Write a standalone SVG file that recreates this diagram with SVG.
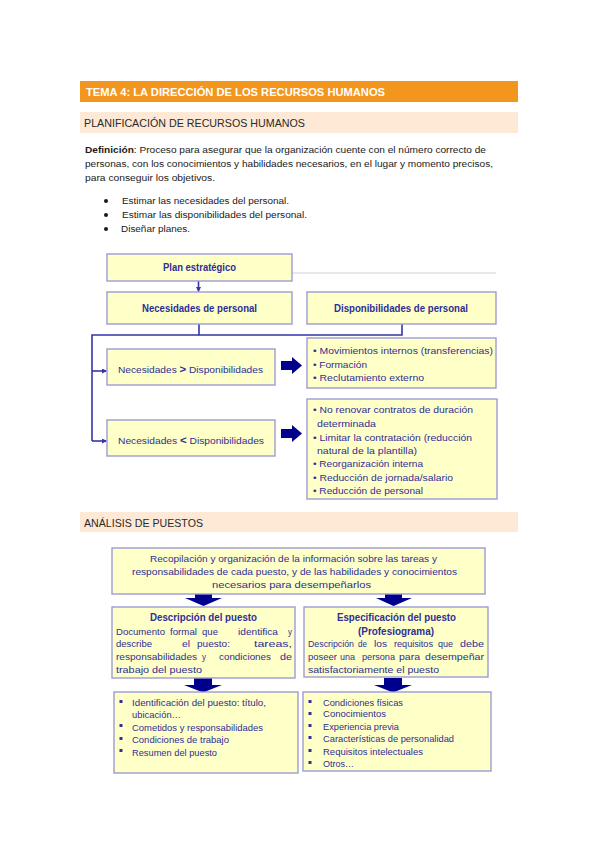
<svg xmlns="http://www.w3.org/2000/svg" width="599" height="848" viewBox="0 0 599 848">
<defs>
<style>
.t{font-family:"Liberation Sans",Arial,sans-serif;}
.body{font-family:"Liberation Sans",Arial,sans-serif;font-size:9.6px;fill:#1a1a1a;}
.box{fill:#ffffc8;stroke:#9c9cd6;stroke-width:1.4;}
.bt{font-family:"Liberation Sans",Arial,sans-serif;font-size:9.8px;fill:#2e2e96;}
.bb{font-family:"Liberation Sans",Arial,sans-serif;font-size:10px;font-weight:bold;fill:#2e2e96;}
.con{fill:none;stroke:#3535a8;stroke-width:1.6;}
.blk{fill:#00008c;}
</style>
<marker id="ah" viewBox="0 0 10 10" refX="9" refY="5" markerWidth="5" markerHeight="5" orient="auto" markerUnits="userSpaceOnUse">
<path d="M0,0 L10,5 L0,10 z" fill="#3535a8"/>
</marker>
</defs>
<rect width="599" height="848" fill="#ffffff"/>

<!-- header bars -->
<g id="header">
<rect x="80" y="81" width="438" height="21" fill="#f2961d"/>
<text class="t" x="86" y="96" font-size="11" font-weight="bold" fill="#ffffff" textLength="299" lengthAdjust="spacingAndGlyphs">TEMA 4: LA DIRECCIÓN DE LOS RECURSOS HUMANOS</text>
</g>
<g id="section1">
<rect x="80" y="112" width="438" height="21" fill="#fde9d5"/>
<text class="t" x="84" y="127" font-size="11.5" fill="#2a2a2a" textLength="221" lengthAdjust="spacingAndGlyphs">PLANIFICACIÓN DE RECURSOS HUMANOS</text>
</g>

<g id="definition">
<text class="body" x="85" y="153" textLength="401" lengthAdjust="spacingAndGlyphs"><tspan font-weight="bold">Definición</tspan>: Proceso para asegurar que la organización cuente con el número correcto de</text>
<text class="body" x="85" y="167" textLength="408" lengthAdjust="spacingAndGlyphs">personas, con los conocimientos y habilidades necesarios, en el lugar y momento precisos,</text>
<text class="body" x="85" y="181" textLength="130" lengthAdjust="spacingAndGlyphs">para conseguir los objetivos.</text>
</g>

<g id="bullets">
<circle cx="106" cy="201" r="2" fill="#1a1a1a"/>
<circle cx="106" cy="215" r="2" fill="#1a1a1a"/>
<circle cx="106" cy="229" r="2" fill="#1a1a1a"/>
<text class="body" x="122" y="204" textLength="167" lengthAdjust="spacingAndGlyphs">Estimar las necesidades del personal.</text>
<text class="body" x="122" y="218" textLength="185" lengthAdjust="spacingAndGlyphs">Estimar las disponibilidades del personal.</text>
<text class="body" x="121" y="232" textLength="69" lengthAdjust="spacingAndGlyphs">Diseñar planes.</text>
</g>

<!-- connectors -->
<g id="connectors">
<line x1="292" y1="273" x2="496" y2="273" stroke="#d0d0d8" stroke-width="1"/>
<line class="con" x1="198.5" y1="281" x2="198.5" y2="291.5" marker-end="url(#ah)"/>
<polyline class="con" points="199,324 199,335 402,335 402,324"/>
<polyline class="con" points="199,335 92,335 92,441"/>
<line class="con" x1="92" y1="371" x2="106.5" y2="371" marker-end="url(#ah)"/>
<line class="con" x1="92" y1="441" x2="106.5" y2="441" marker-end="url(#ah)"/>
<path class="blk" d="M281,361 H292 V357 L302,365.5 L292,374 V370 H281 Z"/>
<path class="blk" d="M281,429 H292 V425 L302,433.5 L292,442 V438 H281 Z"/>
<path class="blk" d="M195,594 H212 V598 H222 L203.5,606 L185,598 H195 Z"/>
<path class="blk" d="M385,594 H402 V598 H412 L393.5,606 L376,598 H385 Z"/>
<path class="blk" d="M194,678 H212 V685 H222 L203,692.5 L184,685 H194 Z"/>
<path class="blk" d="M384,678 H402 V685 H412 L393,692.5 L374,685 H384 Z"/>
</g>

<g id="plan">
<rect class="box" x="107" y="254" width="185" height="27"/>
<text class="bb" x="199.5" y="271" text-anchor="middle" textLength="73" lengthAdjust="spacingAndGlyphs">Plan estratégico</text>
</g>
<g id="necesidades">
<rect class="box" x="107" y="292" width="185" height="32"/>
<text class="bb" x="199.5" y="312" text-anchor="middle" textLength="115" lengthAdjust="spacingAndGlyphs">Necesidades de personal</text>
</g>
<g id="disponibilidades">
<rect class="box" x="307" y="292" width="189" height="32"/>
<text class="bb" x="401" y="312" text-anchor="middle" textLength="134" lengthAdjust="spacingAndGlyphs">Disponibilidades de personal</text>
</g>
<g id="nec-mayor">
<rect class="box" x="107" y="349" width="168" height="36"/>
<text class="bt" x="118" y="373" textLength="145" lengthAdjust="spacingAndGlyphs">Necesidades <tspan font-weight="bold" font-size="11">&gt;</tspan> Disponibilidades</text>
</g>
<g id="nec-menor">
<rect class="box" x="107" y="420" width="168" height="36"/>
<text class="bt" x="118" y="444" textLength="146" lengthAdjust="spacingAndGlyphs">Necesidades <tspan font-weight="bold" font-size="11">&lt;</tspan> Disponibilidades</text>
</g>
<g id="medidas-mayor">
<rect class="box" x="307" y="338" width="189" height="50"/>
<text class="bt" x="313" y="354" textLength="180" lengthAdjust="spacingAndGlyphs">• Movimientos internos (transferencias)</text>
<text class="bt" x="313" y="368" textLength="54" lengthAdjust="spacingAndGlyphs">• Formación</text>
<text class="bt" x="313" y="381" textLength="111" lengthAdjust="spacingAndGlyphs">• Reclutamiento externo</text>
</g>
<g id="medidas-menor">
<rect class="box" x="307" y="399" width="190" height="100"/>
<text class="bt" x="313" y="413" textLength="160" lengthAdjust="spacingAndGlyphs">• No renovar contratos de duración</text>
<text class="bt" x="317" y="427" textLength="59" lengthAdjust="spacingAndGlyphs">determinada</text>
<text class="bt" x="313" y="441" textLength="159" lengthAdjust="spacingAndGlyphs">• Limitar la contratación (reducción</text>
<text class="bt" x="317" y="454" textLength="100" lengthAdjust="spacingAndGlyphs">natural de la plantilla)</text>
<text class="bt" x="313" y="467" textLength="110" lengthAdjust="spacingAndGlyphs">• Reorganización interna</text>
<text class="bt" x="313" y="481" textLength="140" lengthAdjust="spacingAndGlyphs">• Reducción de jornada/salario</text>
<text class="bt" x="313" y="494" textLength="110" lengthAdjust="spacingAndGlyphs">• Reducción de personal</text>
</g>

<g id="section2">
<rect x="80" y="512" width="438" height="20" fill="#fde9d5"/>
<text class="t" x="84" y="527" font-size="11.5" fill="#2a2a2a" textLength="119" lengthAdjust="spacingAndGlyphs">ANÁLISIS DE PUESTOS</text>
</g>

<g id="analisis">
<rect class="box" x="112" y="548" width="373" height="46"/>
<text class="bt" x="293.5" y="562" text-anchor="middle" textLength="287" lengthAdjust="spacingAndGlyphs">Recopilación y organización de la información sobre las tareas y</text>
<text class="bt" x="294.5" y="575" text-anchor="middle" textLength="325" lengthAdjust="spacingAndGlyphs">responsabilidades de cada puesto, y de las habilidades y conocimientos</text>
<text class="bt" x="291.5" y="588" text-anchor="middle" textLength="159" lengthAdjust="spacingAndGlyphs">necesarios para desempeñarlos</text>
</g>

<g id="descripcion">
<rect class="box" x="112" y="607" width="183" height="71"/>
<text class="bb" x="203.5" y="621" text-anchor="middle" textLength="107" lengthAdjust="spacingAndGlyphs">Descripción del puesto</text>
<text class="bt" y="635"><tspan x="116" textLength="49" lengthAdjust="spacingAndGlyphs">Documento</tspan><tspan x="170" textLength="27" lengthAdjust="spacingAndGlyphs">formal</tspan><tspan x="202" textLength="16" lengthAdjust="spacingAndGlyphs">que</tspan><tspan x="238" textLength="40" lengthAdjust="spacingAndGlyphs">identifica</tspan><tspan x="288" textLength="4" lengthAdjust="spacingAndGlyphs">y</tspan></text>
<text class="bt" y="647"><tspan x="116" textLength="36" lengthAdjust="spacingAndGlyphs">describe</tspan><tspan x="182" textLength="8" lengthAdjust="spacingAndGlyphs">el</tspan><tspan x="197" textLength="33" lengthAdjust="spacingAndGlyphs">puesto:</tspan><tspan x="254" textLength="38" lengthAdjust="spacingAndGlyphs">tareas,</tspan></text>
<text class="bt" y="660"><tspan x="116" textLength="81" lengthAdjust="spacingAndGlyphs">responsabilidades</tspan><tspan x="202" textLength="4" lengthAdjust="spacingAndGlyphs">y</tspan><tspan x="219" textLength="52" lengthAdjust="spacingAndGlyphs">condiciones</tspan><tspan x="280" textLength="12" lengthAdjust="spacingAndGlyphs">de</tspan></text>
<text class="bt" x="116" y="673" textLength="86" lengthAdjust="spacingAndGlyphs">trabajo del puesto</text>
</g>

<g id="especificacion">
<rect class="box" x="304" y="607" width="184" height="70"/>
<text class="bb" x="396.5" y="621" text-anchor="middle" textLength="119" lengthAdjust="spacingAndGlyphs">Especificación del puesto</text>
<text class="bb" x="396" y="635" text-anchor="middle" textLength="76" lengthAdjust="spacingAndGlyphs">(Profesiograma)</text>
<text class="bt" y="647"><tspan x="308" textLength="46" lengthAdjust="spacingAndGlyphs">Descripción</tspan><tspan x="358" textLength="9" lengthAdjust="spacingAndGlyphs">de</tspan><tspan x="374" textLength="13" lengthAdjust="spacingAndGlyphs">los</tspan><tspan x="394" textLength="39" lengthAdjust="spacingAndGlyphs">requisitos</tspan><tspan x="438" textLength="15" lengthAdjust="spacingAndGlyphs">que</tspan><tspan x="460" textLength="24" lengthAdjust="spacingAndGlyphs">debe</tspan></text>
<text class="bt" y="660"><tspan x="308" textLength="29" lengthAdjust="spacingAndGlyphs">poseer</tspan><tspan x="340" textLength="15" lengthAdjust="spacingAndGlyphs">una</tspan><tspan x="362" textLength="33" lengthAdjust="spacingAndGlyphs">persona</tspan><tspan x="399" textLength="21" lengthAdjust="spacingAndGlyphs">para</tspan><tspan x="425" textLength="59" lengthAdjust="spacingAndGlyphs">desempeñar</tspan></text>
<text class="bt" x="308" y="673" textLength="131" lengthAdjust="spacingAndGlyphs">satisfactoriamente el puesto</text>
</g>

<g id="lista-descripcion">
<rect class="box" x="114" y="692" width="184" height="81"/>
<rect x="119.5" y="700" width="3" height="3" fill="#2e2e96"/>
<rect x="119.5" y="724" width="3" height="3" fill="#2e2e96"/>
<rect x="119.5" y="737" width="3" height="3" fill="#2e2e96"/>
<rect x="119.5" y="749" width="3" height="3" fill="#2e2e96"/>
<text class="bt" x="132" y="706" textLength="134" lengthAdjust="spacingAndGlyphs">Identificación del puesto: título,</text>
<text class="bt" x="132" y="718" textLength="49" lengthAdjust="spacingAndGlyphs">ubicación…</text>
<text class="bt" x="132" y="731" textLength="131" lengthAdjust="spacingAndGlyphs">Cometidos y responsabilidades</text>
<text class="bt" x="132" y="743" textLength="97" lengthAdjust="spacingAndGlyphs">Condiciones de trabajo</text>
<text class="bt" x="132" y="756" textLength="85" lengthAdjust="spacingAndGlyphs">Resumen del puesto</text>
</g>

<g id="lista-especificacion">
<rect class="box" x="303" y="692" width="188" height="79"/>
<rect x="308.5" y="700" width="3" height="3" fill="#2e2e96"/>
<rect x="308.5" y="712" width="3" height="3" fill="#2e2e96"/>
<rect x="308.5" y="724" width="3" height="3" fill="#2e2e96"/>
<rect x="308.5" y="736" width="3" height="3" fill="#2e2e96"/>
<rect x="308.5" y="749" width="3" height="3" fill="#2e2e96"/>
<rect x="308.5" y="761" width="3" height="3" fill="#2e2e96"/>
<text class="bt" x="323" y="706" textLength="80" lengthAdjust="spacingAndGlyphs">Condiciones físicas</text>
<text class="bt" x="323" y="717" textLength="63" lengthAdjust="spacingAndGlyphs">Conocimientos</text>
<text class="bt" x="323" y="730" textLength="76" lengthAdjust="spacingAndGlyphs">Experiencia previa</text>
<text class="bt" x="323" y="742" textLength="131" lengthAdjust="spacingAndGlyphs">Características de personalidad</text>
<text class="bt" x="323" y="755" textLength="100" lengthAdjust="spacingAndGlyphs">Requisitos intelectuales</text>
<text class="bt" x="323" y="767" textLength="31" lengthAdjust="spacingAndGlyphs">Otros…</text>
</g>
</svg>
